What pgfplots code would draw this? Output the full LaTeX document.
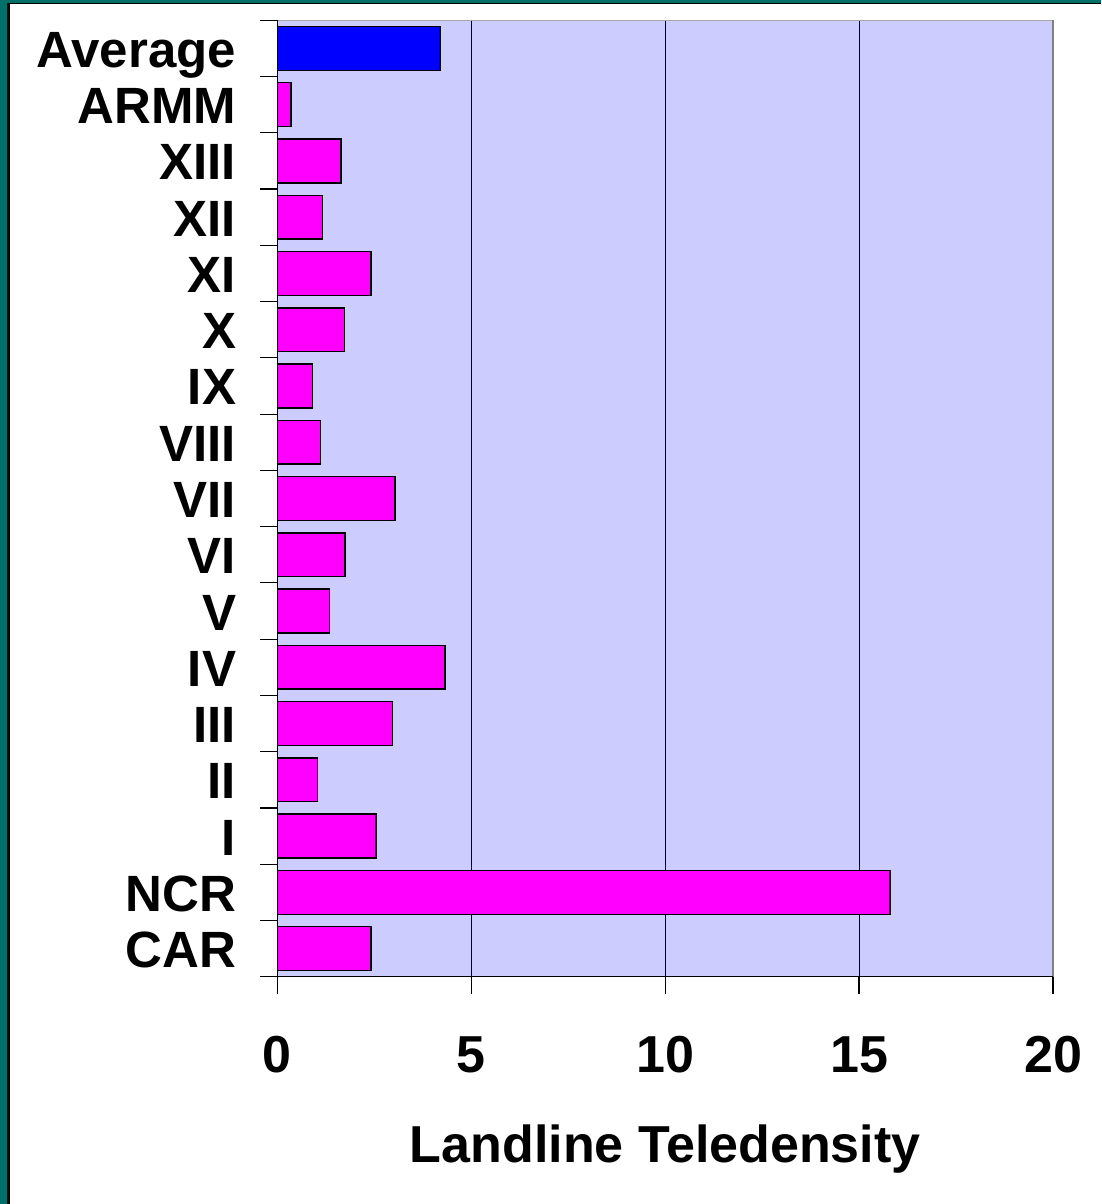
\documentclass[border=0pt]{standalone}
\usepackage{pgfplots}
\pgfplotsset{compat=1.18}
\usepackage{fontspec}
\setmainfont{Liberation Sans}
\definecolor{frameteal}{RGB}{0,112,104}
\definecolor{plotbg}{RGB}{204,204,255}
\definecolor{barmag}{RGB}{255,0,255}
\definecolor{barblue}{RGB}{0,0,255}
\begin{document}
\begin{tikzpicture}[x=1pt,y=1pt]
\useasboundingbox (0,0) rectangle (1101,1204);
\fill[frameteal] (0,0) rectangle (1101,1204);
\fill[black] (7,0) rectangle (1101,1201);
\fill[white] (10,0) rectangle (1101,1200);
\begin{axis}[
  at={(277.3pt,227.3pt)}, anchor=south west,
  scale only axis, width=775.7pt, height=956.4pt,
  xmin=0, xmax=20, ymin=-0.5, ymax=16.5,
  xbar, bar width=0.78, bar shift=0pt,
  axis background/.style={fill=plotbg},
  axis line style={draw=none},
  xtick={0,5,10,15,20},
  ytick={0,...,16},
  yticklabels={CAR,NCR,I,II,III,IV,V,VI,VII,VIII,IX,X,XI,XII,XIII,ARMM,Average},
  minor ytick={-0.5,0.5,...,16.5},
  xtick pos=bottom, ytick pos=left,
  tick align=outside,
  major tick length=17pt, minor tick length=17pt,
  major y tick style={draw=none},
  tick style={black, line width=1.2pt},
  xmajorgrids, grid style={black, line width=0.9pt},
  ymajorgrids=false,
  /pgf/number format/assume math mode=true,
  tick label style={font=\fontsize{52}{56}\selectfont\bfseries},
  yticklabel style={font=\fontsize{51}{55}\selectfont\bfseries, anchor=base east, inner sep=0pt, xshift=-24pt, yshift=-19pt},
  xticklabel style={anchor=base, inner sep=0pt, yshift=-79pt},
  xlabel={Landline Teledensity},
  xlabel style={font=\fontsize{52}{56}\selectfont\bfseries, at={(axis description cs:0.5,0)}, anchor=base, inner sep=0pt, yshift=-186pt},
  clip=false,
]
\addplot[fill=barmag, draw=black, line width=1.5pt] coordinates {
 (2.42,0) (15.80,1) (2.55,2) (1.03,3) (2.97,4) (4.33,5) (1.35,6) (1.75,7)
 (3.03,8) (1.12,9) (0.91,10) (1.73,11) (2.42,12) (1.17,13) (1.64,14) (0.35,15)
};
\addplot[fill=barblue, draw=black, line width=1.5pt] coordinates {(4.19,16)};
\draw[gray!70, line width=1.2pt] (rel axis cs:0,1) -- (rel axis cs:1,1);
\draw[gray, line width=2pt] (rel axis cs:1,0) -- (rel axis cs:1,1);
\draw[black, line width=1.5pt] (rel axis cs:0,0) -- (rel axis cs:1,0);
\draw[black, line width=1.5pt] (rel axis cs:0,0) -- (rel axis cs:0,1);
\end{axis}
\end{tikzpicture}
\end{document}
